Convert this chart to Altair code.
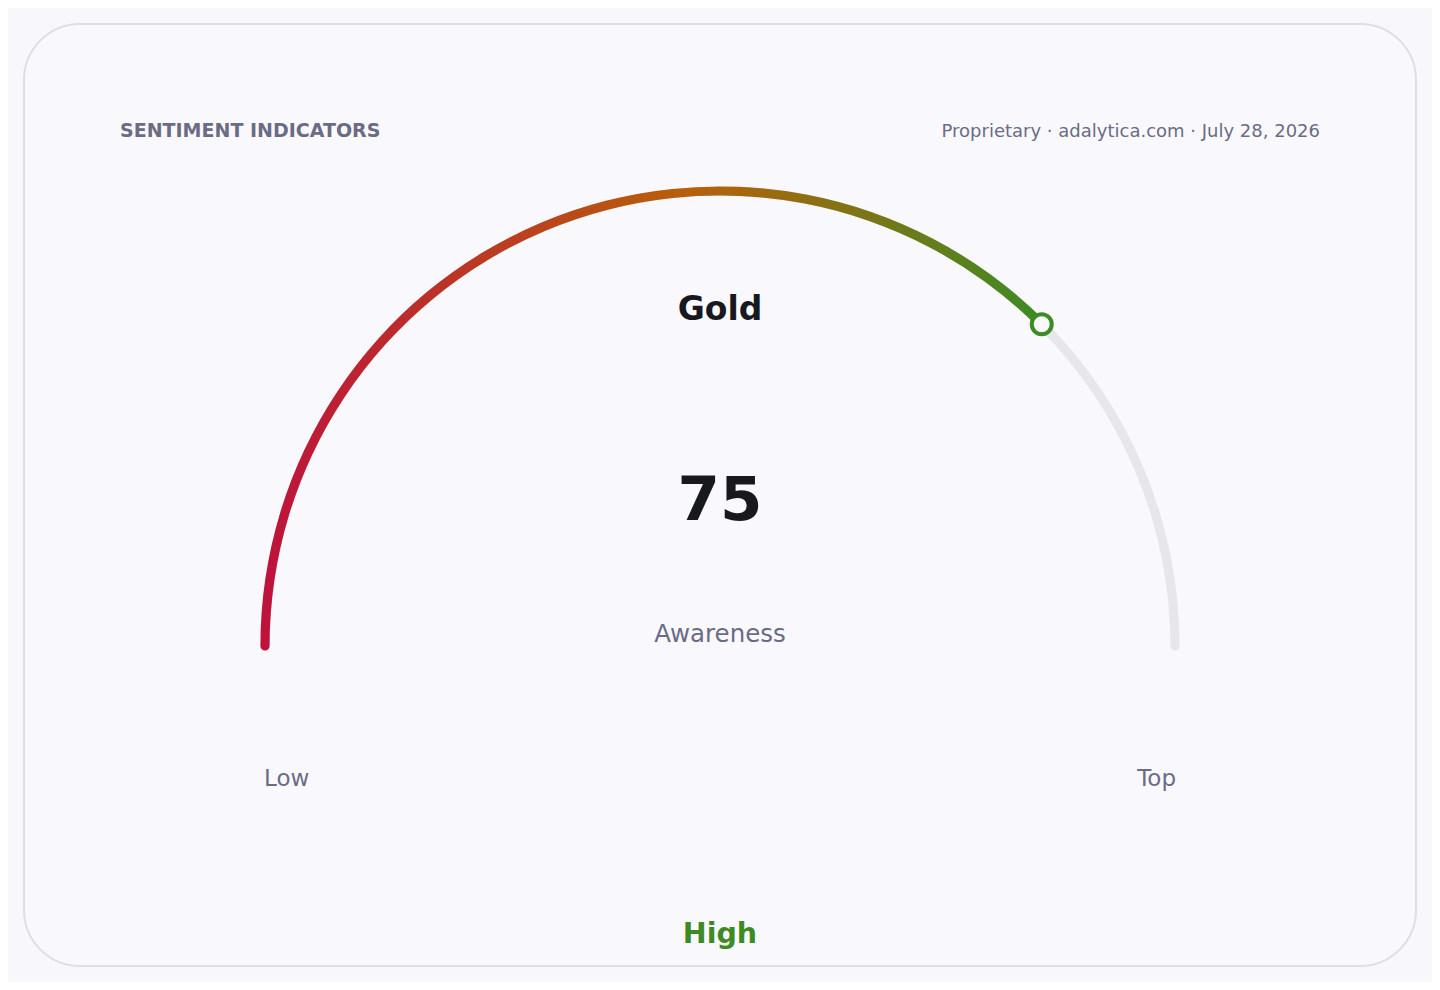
import math
import altair as alt
import pandas as pd

# ---- data ----
scale_min = [0]
scale_max = [100]
score = [75]
asset = ["Gold"]
metric = ["Awareness"]
band = ["High"]
end_labels = ["Low", "Top"]
header = ["SENTIMENT INDICATORS"]
source = ["Proprietary · adalytica.com · July 28, 2026"]

# ---- colours ----
CRIMSON = "#be123c"
ORANGE = "#b8600a"
GREEN = "#3d8b24"
TRACK = "#e6e6eb"
DARK = "#18181f"
MUTED = "#6b6b86"
FONT = "DejaVu Sans"

W, H = 1392, 942
CX, CY, R = 696, 622, 455
HALF = 4.6
CAP = HALF / R  # round-cap extension in radians

theta_scale = alt.Scale(domain=[scale_min[0], scale_max[0]], range=[-math.pi / 2, math.pi / 2])

track_df = pd.DataFrame({"start": scale_min, "end": scale_max})
value_df = pd.DataFrame({"start": scale_min, "end": score})

track = alt.Chart(track_df).mark_arc(
    innerRadius=R - HALF, outerRadius=R + HALF, cornerRadius=HALF, color=TRACK,
    thetaOffset=-CAP, theta2Offset=CAP,
).encode(
    theta=alt.Theta("start:Q", scale=theta_scale),
    theta2="end:Q",
    x=alt.value(CX), y=alt.value(CY),
)

gradient = {
    "gradient": "linear", "x1": 0, "y1": 0, "x2": 1, "y2": 0,
    "stops": [
        {"offset": 0, "color": CRIMSON},
        {"offset": 0.55, "color": ORANGE},
        {"offset": 1, "color": GREEN},
    ],
}

value_arc = alt.Chart(value_df).mark_arc(
    innerRadius=R - HALF, outerRadius=R + HALF, cornerRadius=HALF, fill=gradient,
    thetaOffset=-CAP,
).encode(
    theta=alt.Theta("start:Q", scale=theta_scale),
    theta2="end:Q",
    x=alt.value(CX), y=alt.value(CY),
)

marker = alt.Chart(pd.DataFrame({"v": score})).transform_calculate(
    px=f"cos(PI - (datum.v - {scale_min[0]}) / ({scale_max[0]} - {scale_min[0]}) * PI)",
    py=f"sin(PI - (datum.v - {scale_min[0]}) / ({scale_max[0]} - {scale_min[0]}) * PI)",
).mark_point(
    shape="circle", size=400, filled=False, fill="#f9f9fd", fillOpacity=1,
    stroke=GREEN, strokeWidth=4, opacity=1,
).encode(
    x=alt.X("px:Q", scale=alt.Scale(domain=[-1, 1], range=[CX - R, CX + R]), axis=None),
    y=alt.Y("py:Q", scale=alt.Scale(domain=[-1, 1], range=[CY + R, CY - R]), axis=None),
)


def label(txt, x, y, size, color, weight="normal", align="center"):
    return alt.Chart(pd.DataFrame({"t": txt})).mark_text(
        font=FONT, fontSize=size, color=color, fontWeight=weight,
        align=align, baseline="alphabetic",
    ).encode(text="t:N", x=alt.value(x), y=alt.value(y))


texts = [
    label(header, 96, 113, 19, MUTED, "bold", "left"),
    label(source, 1296, 113, 18, MUTED, "normal", "right"),
    label(asset, CX, 296, 33, DARK, "bold"),
    label([str(score[0])], CX, 496, 61, DARK, "bold"),
    label(metric, CX, 618, 24.5, MUTED),
    label([end_labels[0]], 240, 762, 23, MUTED, "normal", "left"),
    label([end_labels[1]], 1152, 762, 23, MUTED, "normal", "right"),
    label(band, CX, 919, 28.5, GREEN, "bold"),
]

chart = alt.layer(track, value_arc, marker, *texts).properties(
    width=W, height=H, padding=16,
    autosize=alt.AutoSizeParams(type="none"),
    background="#f8f8fc",
).configure_view(
    fill="#f9f9fd", stroke="#dedeeb", strokeWidth=2, cornerRadius=56,
)

chart.save("out.html", embed_options={"renderer": "svg", "actions": False})
